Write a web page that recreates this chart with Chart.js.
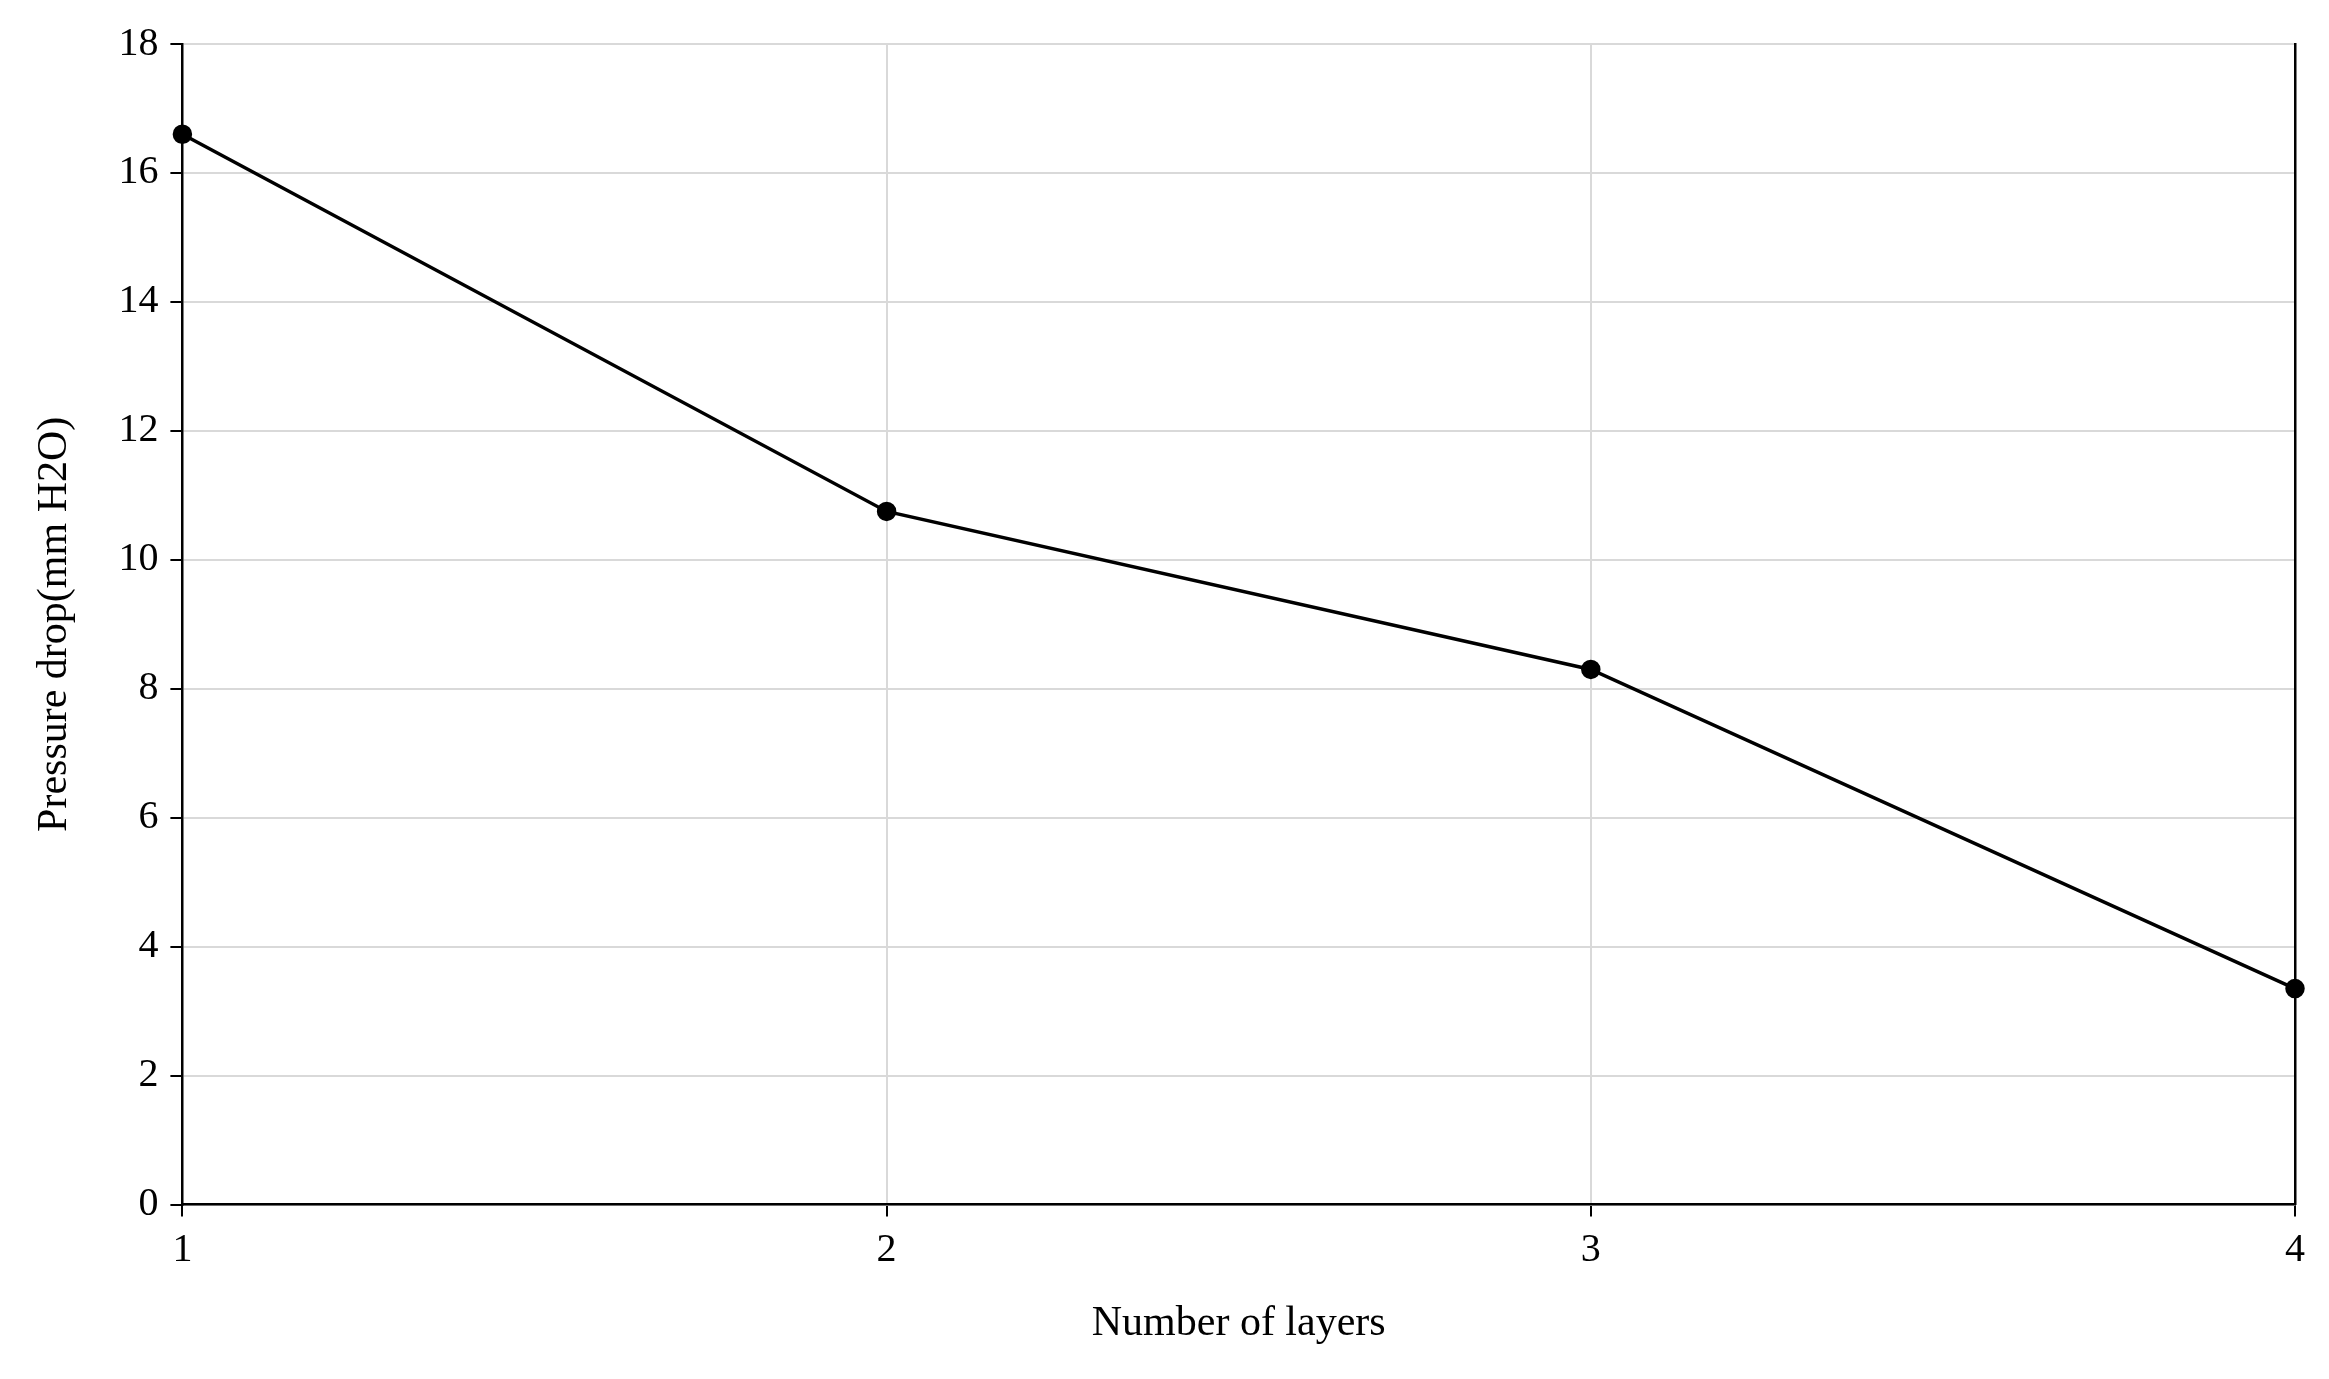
<!DOCTYPE html>
<html>
<head>
<meta charset="utf-8">
<script src="https://cdn.jsdelivr.net/npm/chart.js@4/dist/chart.umd.min.js"></script>
<style>
  html, body { margin: 0; padding: 0; background: #fff; }
  #wrap { width: 2329px; height: 1379px; }
</style>
</head>
<body>
<div id="wrap"><canvas id="chart"></canvas></div>
<script>
const layers = [1, 2, 3, 4]
const pressureDrop = [16.6, 10.75, 8.3, 3.35]
const yTicks = [0, 2, 4, 6, 8, 10, 12, 14, 16, 18]

const font = { family: 'Liberation Serif', size: 40 }
const titleFont = { family: 'Liberation Serif', size: 42 }

new Chart(document.getElementById('chart'), {
  type: 'scatter',
  data: {
    datasets: [{
      data: layers.map((x, i) => ({ x, y: pressureDrop[i] })),
      showLine: true,
      borderColor: '#000',
      backgroundColor: '#000',
      borderWidth: 3.5,
      pointRadius: 8,
      pointHoverRadius: 8,
      clip: false
    }]
  },
  options: {
    responsive: true,
    maintainAspectRatio: false,
    animation: false,
    layout: { padding: { top: 44, right: 34, left: 26, bottom: 26 } },
    plugins: { legend: { display: false }, tooltip: { enabled: false } },
    scales: {
      x: {
        type: 'linear', min: 1, max: 4,
        ticks: { stepSize: 1, color: '#000', font, padding: 10 },
        grid: { color: '#d9d9d9', lineWidth: 2, tickColor: '#000', tickLength: 12 },
        border: { color: '#000', width: 2.5 },
        title: { display: true, text: 'Number of layers', color: '#000', font: titleFont, padding: { top: 14 } }
      },
      y: {
        min: 0, max: 18,
        afterBuildTicks: axis => { axis.ticks = yTicks.map(v => ({ value: v })) },
        ticks: { color: '#000', font, padding: 12 },
        grid: { color: '#d9d9d9', lineWidth: 2, tickColor: '#000', tickLength: 12 },
        border: { color: '#000', width: 2.5 },
        title: { display: true, text: 'Pressure drop(mm H2O)', color: '#000', font: titleFont, padding: { bottom: 26 } }
      },
      y2: {
        position: 'right', min: 0, max: 18,
        ticks: { display: false },
        grid: { drawOnChartArea: false, drawTicks: false },
        border: { color: '#000', width: 2.5 }
      }
    }
  }
})
</script>
</body>
</html>
